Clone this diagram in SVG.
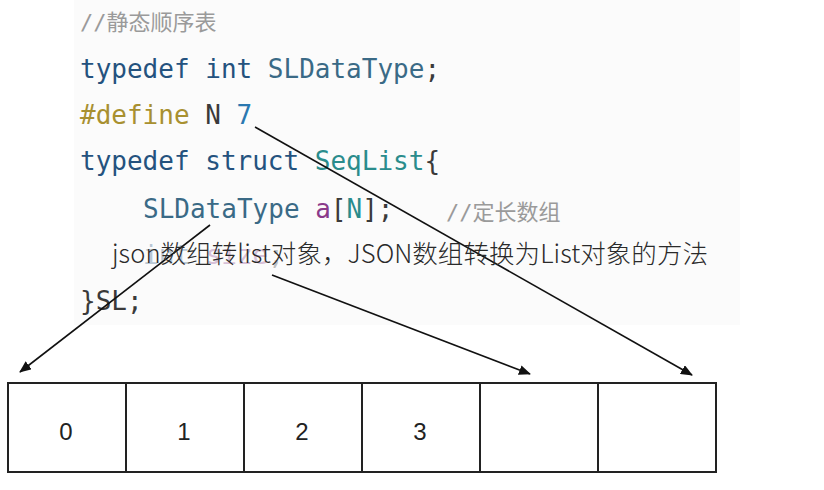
<svg xmlns="http://www.w3.org/2000/svg" width="824" height="490" viewBox="0 0 824 490">
<style>
.c{font-family:"DejaVu Sans Mono","Liberation Mono",monospace;font-size:26px}
.cm{fill:#9a9a9a;font-family:"DejaVu Sans Mono","Noto Sans CJK SC",monospace;font-size:22px}
.k{fill:#24527e}.t{fill:#3a6a86}.d{fill:#a89030}.n{fill:#3a3a3a}.b{fill:#2a78b0}.s{fill:#2a8c8c}.p{fill:#8a3a8a}
.cell{fill:#fff;stroke:#222;stroke-width:2}
.num{font-family:"Liberation Sans",sans-serif;font-size:24px;fill:#222;text-anchor:middle}
.ln{stroke:#111;stroke-width:1.6;fill:none;marker-end:url(#ah)}
</style>
<defs><marker id="ah" markerWidth="12" markerHeight="10" refX="11" refY="5" orient="auto" markerUnits="userSpaceOnUse"><path d="M0,0 L12,5 L0,10 Z" fill="#111"/></marker></defs>
<rect width="824" height="490" fill="#fff"/>
<rect x="74" y="0" width="666" height="325" fill="#fbfbfb"/>
<g id="code">
<text class="cm" x="80" y="30">//静态顺序表</text>
<text class="c" x="80" y="78"><tspan class="k">typedef int </tspan><tspan class="t">SLDataType</tspan><tspan class="n">;</tspan></text>
<text class="c" x="80" y="124"><tspan class="d">#define </tspan><tspan class="n">N </tspan><tspan class="b">7</tspan></text>
<text class="c" x="80" y="170"><tspan class="k">typedef struct </tspan><tspan class="s">SeqList</tspan><tspan class="n">{</tspan></text>
<text class="c" x="143" y="218"><tspan class="t">SLDataType </tspan><tspan class="p">a</tspan><tspan class="n">[</tspan><tspan class="s">N</tspan><tspan class="n">];</tspan></text>
<text class="cm" x="446" y="220">//定长数组</text>
<text class="c" x="143" y="264" opacity="0.3"><tspan class="k">int </tspan><tspan class="p">size</tspan><tspan class="n">;</tspan></text>
<text class="c" x="80" y="310"><tspan class="n">}SL;</tspan></text>
</g>
<g id="array">
<rect class="cell" x="8" y="383" width="118" height="89"/>
<rect class="cell" x="126" y="383" width="118" height="89"/>
<rect class="cell" x="244" y="383" width="118" height="89"/>
<rect class="cell" x="362" y="383" width="118" height="89"/>
<rect class="cell" x="480" y="383" width="118" height="89"/>
<rect class="cell" x="598" y="383" width="118" height="89"/>
<text class="num" x="66" y="440">0</text>
<text class="num" x="184" y="440">1</text>
<text class="num" x="302" y="440">2</text>
<text class="num" x="420" y="440">3</text>
</g>
<g id="connectors">
<line class="ln" x1="255" y1="127" x2="692" y2="375"/>
<line class="ln" x1="210" y1="225" x2="20" y2="372"/>
<line class="ln" x1="272" y1="275" x2="530" y2="374"/>
</g>
<g id="title">
<text x="112" y="263" textLength="596" style="font-family:'Noto Sans CJK SC','Noto Sans',sans-serif;font-size:25.5px;font-weight:300;fill:#2a2a2a">json数组转list对象，JSON数组转换为List对象的方法</text>
</g>
</svg>
